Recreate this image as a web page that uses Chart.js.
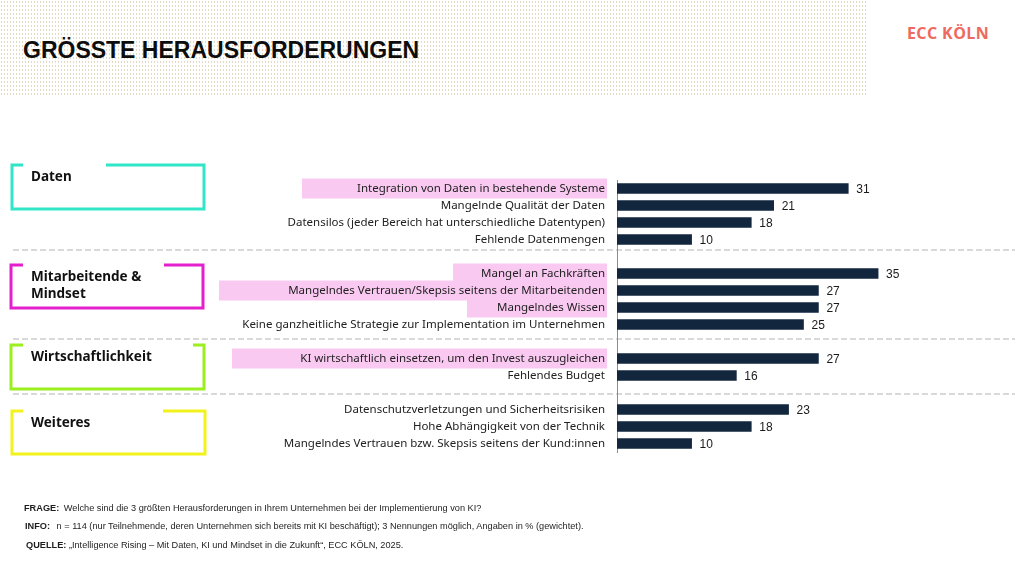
<!DOCTYPE html>
<html lang="de">
<head>
<meta charset="utf-8">
<script src="https://cdn.jsdelivr.net/npm/chart.js@4.4.1/dist/chart.umd.min.js"></script>
<style>
    body {
        margin: 0;
        width: 1024px;
        height: 576px;
        position: relative;
        overflow: hidden;
        background: #fff;
        font-family: 'Liberation Sans', Arial, sans-serif;
        color: #1a1a1a;
    }
    #dots {
        position: absolute;
        left: 0; top: 0;
        width: 868px; height: 97px;
        background-image: radial-gradient(circle, #e6d9c4 0.8px, transparent 1px);
        background-size: 3px 4px;
    }
    #title {
        position: absolute;
        left: 23px; top: 39px;
        margin: 0;
        font: bold 23px/23px 'Liberation Sans', Arial, sans-serif;
        color: #0d0d0d;
    }
    #logo {
        position: absolute;
        left: 907px; top: 25px;
        font: bold 16px/16px 'Open Sans', sans-serif;
        color: #ee6a60;
        letter-spacing: 0.4px;
    }
    #chart {
        position: absolute;
        left: 0; top: 0;
    }
    .note {
        position: absolute;
        left: 24px;
        font-size: 9.2px;
        line-height: 10px;
        color: #1e1e1e;
        white-space: nowrap;
    }
</style>
</head>
<body>
<div id="dots"></div>
<h1 id="title">GRÖSSTE HERAUSFORDERUNGEN</h1>
<div id="logo">ECC KÖLN</div>
<canvas id="chart" width="1024" height="576"></canvas>
<div class="note" style="top:503px"><b style="margin-right:2px">FRAGE:</b> Welche sind die 3 größten Herausforderungen in Ihrem Unternehmen bei der Implementierung von KI?</div>
<div class="note" style="top:521px;left:25px"><b style="margin-right:4px">INFO:</b> n = 114 (nur Teilnehmende, deren Unternehmen sich bereits mit KI beschäftigt); 3 Nennungen möglich, Angaben in % (gewichtet).</div>
<div class="note" style="top:540px;left:26px"><b>QUELLE:</b> „Intelligence Rising – Mit Daten, KI und Mindset in die Zukunft“, ECC KÖLN, 2025.</div>

<script>
// Rows of the chart, '' = empty row between the groups
const categories = [
    'Integration von Daten in bestehende Systeme',
    'Mangelnde Qualität der Daten',
    'Datensilos (jeder Bereich hat unterschiedliche Datentypen)',
    'Fehlende Datenmengen',
    '',
    'Mangel an Fachkräften',
    'Mangelndes Vertrauen/Skepsis seitens der Mitarbeitenden',
    'Mangelndes Wissen',
    'Keine ganzheitliche Strategie zur Implementation im Unternehmen',
    '',
    'KI wirtschaftlich einsetzen, um den Invest auszugleichen',
    'Fehlendes Budget',
    '',
    'Datenschutzverletzungen und Sicherheitsrisiken',
    'Hohe Abhängigkeit von der Technik',
    'Mangelndes Vertrauen bzw. Skepsis seitens der Kund:innen'
];
const values = [31, 21, 18, 10, null, 35, 27, 27, 25, null, 27, 16, null, 23, 18, 10];
const highlighted = [true, false, false, false, false, true, true, true, false, false, true, false, false, false, false, false];
const groupNames = [['Daten'], ['Mitarbeitende &', 'Mindset'], ['Wirtschaftlichkeit'], ['Weiteres']];

// Styling
const barColor = '#12263e';
const pink = '#fac9f1';
const markWidths = [305, 0, 0, 0, 0, 154, 388, 140, 0, 0, 375, 0, 0, 0, 0, 0];
const sepOffsets = [-7, -3, 1];
const groupBoxes = [
    { color: '#30e6c7', x1: 12, y1: 165, x2: 204, y2: 209, gap: 106 },
    { color: '#e41fcc', x1: 11, y1: 265, x2: 203, y2: 308, gap: 164 },
    { color: '#9cef1e', x1: 11, y1: 345, x2: 204, y2: 389, gap: 193 },
    { color: '#f2f21c', x1: 12, y1: 411, x2: 205, y2: 454, gap: 163 }
];

const backgroundPlugin = {
    id: 'background',
    beforeDraw(chart) {
        const ctx = chart.ctx;
        const yScale = chart.scales.y;
        const axisX = chart.chartArea.left;
        ctx.save();

        // pink marks behind the highlighted labels
        ctx.fillStyle = pink;
        highlighted.forEach((on, i) => {
            if (!on) return;
            const y = yScale.getPixelForValue(i);
            ctx.fillRect(axisX - 10 - markWidths[i], y - 10, markWidths[i], 20);
        });

        // dashed separators at the empty rows
        ctx.strokeStyle = '#d9d9d9';
        ctx.lineWidth = 2;
        ctx.setLineDash([6, 3]);
        let k = 0;
        categories.forEach((c, i) => {
            if (c !== '') return;
            const y = Math.round(yScale.getPixelForValue(i) + sepOffsets[k++]);
            ctx.beginPath();
            ctx.moveTo(13, y);
            ctx.lineTo(1015, y);
            ctx.stroke();
        });
        ctx.setLineDash([]);

        // group boxes with an open top
        ctx.lineWidth = 3;
        ctx.font = "bold 13.5px 'Noto Sans', sans-serif";
        ctx.textBaseline = 'middle';
        groupBoxes.forEach((b, gi) => {
            ctx.strokeStyle = b.color;
            ctx.beginPath();
            ctx.moveTo(23, b.y1);
            ctx.lineTo(b.x1, b.y1);
            ctx.lineTo(b.x1, b.y2);
            ctx.lineTo(b.x2, b.y2);
            ctx.lineTo(b.x2, b.y1);
            ctx.lineTo(b.gap, b.y1);
            ctx.stroke();
            ctx.fillStyle = '#111';
            groupNames[gi].forEach((line, li) => {
                ctx.fillText(line, 31, b.y1 + 12 + li * 17);
            });
        });
        ctx.restore();
    }
};

const valueLabels = {
    id: 'valueLabels',
    afterDatasetsDraw(chart) {
        const ctx = chart.ctx;
        const meta = chart.getDatasetMeta(0);
        ctx.save();
        ctx.font = "12px 'Liberation Sans', Arial, sans-serif";
        ctx.fillStyle = '#1a1a1a';
        ctx.textBaseline = 'middle';
        meta.data.forEach((bar, i) => {
            if (values[i] === null) return;
            ctx.fillText(values[i], bar.x + 8, bar.y + 1);
        });
        ctx.restore();
    }
};

new Chart(document.getElementById('chart'), {
    type: 'bar',
    data: {
        labels: categories,
        datasets: [{
            data: values,
            backgroundColor: barColor,
            barThickness: 10
        }]
    },
    options: {
        indexAxis: 'y',
        responsive: false,
        animation: false,
        layout: {
            padding: { left: 0, right: 34, top: 180, bottom: 124 }
        },
        plugins: {
            legend: { display: false },
            tooltip: { enabled: false }
        },
        scales: {
            x: {
                display: false,
                min: 0,
                max: 50
            },
            y: {
                afterFit: (scale) => { scale.width = 617; },
                grid: { display: false, drawTicks: false },
                border: { display: true, color: '#8c8c8c', width: 1 },
                ticks: {
                    autoSkip: false,
                    padding: 12,
                    color: '#222',
                    font: { family: "'Noto Sans', sans-serif", size: 11.5 }
                }
            }
        }
    },
    plugins: [backgroundPlugin, valueLabels]
});
</script>
</body>
</html>
